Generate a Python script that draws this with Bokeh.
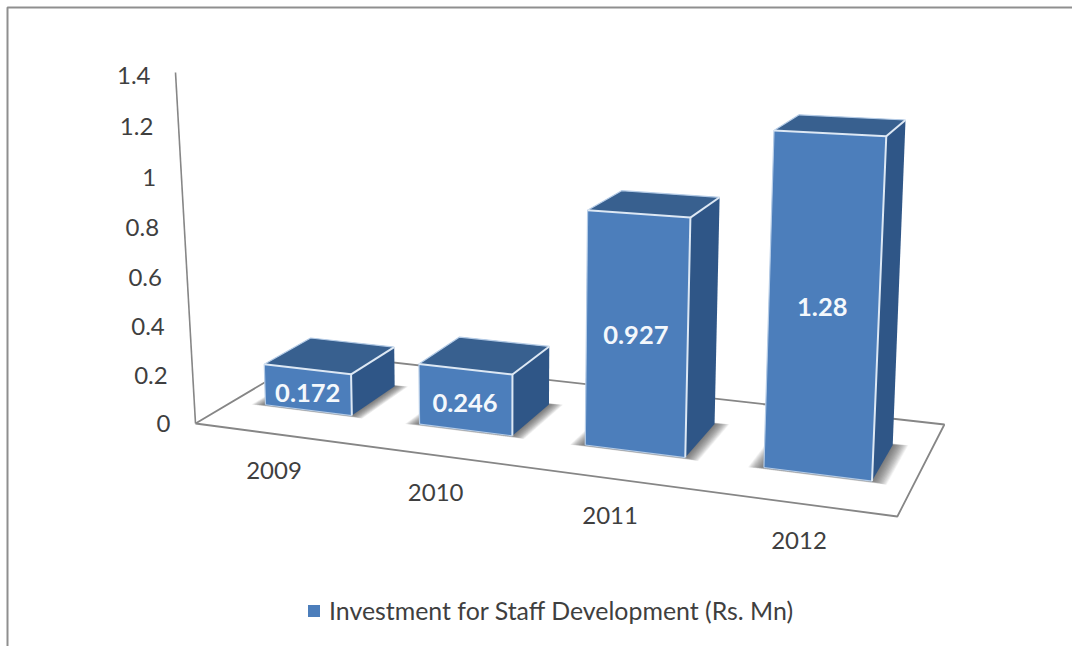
from bokeh.embed import file_html
from bokeh.resources import INLINE
from bokeh.plotting import figure
from bokeh.models import Legend, LegendItem, Range1d
from bokeh.core.properties import value

# Chart content
years = ["2009", "2010", "2011", "2012"]
investment = [0.172, 0.246, 0.927, 1.28]
axis_ticks = [0, 0.2, 0.4, 0.6, 0.8, 1.0, 1.2, 1.4]
axis_labels = ["0", "0.2", "0.4", "0.6", "0.8", "1", "1.2", "1.4"]
series_name = "Investment for Staff Development (Rs. Mn)"

FONT = "Lato"
TEXT = "#3f3f3f"
FRONT, TOP, SIDE = "#4c7ebb", "#38608f", "#2f5687"
EDGE = "#dde8f4"
GREY = "#868686"

# Floor plane as a projective map from (u, w) in the unit square to the page,
# where u runs along the categories and w runs into the depth of the chart.
G, H = -0.1440, 0.12325
A, B, C = 572.7, 156.6, 195.0
D, E, F = 18.7, -26.5, 423.0


def floor_point(u, w):
    k = G * u + H * w + 1
    return (A * u + B * w + C) / k, (D * u + E * w + F) / k


def raised(u, w, v):
    """Project a point at height v above floor position (u, w)."""
    x, y = floor_point(u, w)
    depth = max(w - 0.3, 0) / 0.4
    per_unit = 61 + 0.002 * x + 0.43 * y
    lean = 0.03 * (x - 500) * (1 - 0.15 * depth)
    return x + v * lean, y - v * per_unit


def axis_x(v):
    return 195 - v * 20 / 1.4


def axis_label_y(v):
    # The value scale stretches slightly towards the viewer at the top
    return 423 - v * (240 + 6 * v)


def axis_line_y(v):
    return 423 - v * 351 / 1.4


def bar_center(i):
    return 0.125 + i * 0.2505


def poly(points):
    return [pt[0] for pt in points], [pt[1] for pt in points]


p = figure(
    width=1072, height=646,
    x_range=Range1d(0, 1072), y_range=Range1d(646, 0),
    x_axis_type=None, y_axis_type=None,
    toolbar_location=None, output_backend="svg",
    min_border=0, outline_line_color=None, background_fill_color="white",
)
p.grid.visible = False

# Picture border along the top and the left
p.line([7, 7, 1072], [646, 7, 7], line_color="#8f8f8f", line_width=2)

# Vertical axis line and floor outline
p.line([axis_x(0), axis_x(1.4)], [axis_line_y(0), axis_line_y(1.4)], line_color=GREY, line_width=1.6)
corners = [floor_point(0, 0), floor_point(1, 0), floor_point(1, 1), floor_point(0, 1), floor_point(0, 0)]
fx, fy = poly(corners)
p.line(fx, fy, line_color=GREY, line_width=1.8)

n = len(years)
half_w = 0.0713
w_front, w_back = 0.3, 0.7

# Soft contact shadows on the floor, built from many stacked translucent footprints
for layer in range(1, 21):
    spread = 0.001 * layer
    xs, ys = [], []
    for i in range(n):
        c = bar_center(i)
        l, r = c - half_w - spread, c + half_w + spread
        f, b = w_front - spread * 0.9, w_back + spread * 0.8
        sx, sy = poly([floor_point(l, f), floor_point(r, f), floor_point(r, b), floor_point(l, b)])
        xs.append(sx)
        ys.append(sy)
    p.patches(xs, ys, fill_color="#4a4a4a", fill_alpha=0.055, line_color=None)

front_x, front_y, top_x, top_y, side_x, side_y = [], [], [], [], [], []
bright_x, bright_y, soft_x, soft_y = [], [], [], []
for i, v in enumerate(investment):
    c = bar_center(i)
    l, r = c - half_w, c + half_w
    fl0, fr0, br0 = floor_point(l, w_front), floor_point(r, w_front), floor_point(r, w_back)
    fl1, fr1 = raised(l, w_front, v), raised(r, w_front, v)
    br1, bl1 = raised(r, w_back, v), raised(l, w_back, v)
    for xs, ys, pts in [
        (front_x, front_y, [fl0, fr0, fr1, fl1]),
        (top_x, top_y, [fl1, fr1, br1, bl1]),
        (side_x, side_y, [fr0, br0, br1, fr1]),
    ]:
        x, y = poly(pts)
        xs.append(x)
        ys.append(y)
    for pts in ([fl1, fr1, fr0], [fr1, br1]):
        x, y = poly(pts)
        bright_x.append(x)
        bright_y.append(y)
    for pts in ([fl0, fr0], [fl0, fl1, bl1, br1]):
        x, y = poly(pts)
        soft_x.append(x)
        soft_y.append(y)

front = p.patches(front_x, front_y, fill_color=FRONT, line_color=None)
p.patches(top_x, top_y, fill_color=TOP, line_color=None)
p.patches(side_x, side_y, fill_color=SIDE, line_color=None)
p.multi_line(soft_x, soft_y, line_color="#b4cbe6", line_width=1.2)
p.multi_line(bright_x, bright_y, line_color=EDGE, line_width=2)

# Value labels centred on each front face
lx, ly, lt = [], [], []
for i, v in enumerate(investment):
    c = (i + 0.5) / n
    b = floor_point(c, w_front)
    t = raised(c, w_front, v)
    lx.append((b[0] + t[0]) / 2)
    ly.append((b[1] + t[1]) / 2 + 3)
    lt.append(f"{v:g}")
p.text(lx, ly, text=lt, text_color="#f4f8fc", text_font=value(FONT), text_font_style="bold",
       text_font_size="25.5px", text_align="center", text_baseline="middle")

# Axis tick labels follow the tilt of the axis line
p.text([axis_x(t) - 25 for t in axis_ticks], [axis_label_y(t) for t in axis_ticks], text=axis_labels,
       text_color=TEXT, text_font=value(FONT), text_font_size="24px",
       text_align="right", text_baseline="middle")

# Category labels sit below the front floor edge
cat = [floor_point((i + 0.5) / n, 0) for i in range(n)]
p.text([pt[0] + 2 for pt in cat], [pt[1] + 37 for pt in cat], text=years,
       text_color=TEXT, text_font=value(FONT), text_font_size="24px",
       text_align="center", text_baseline="middle")

legend = Legend(
    items=[LegendItem(label=value(series_name), renderers=[front])],
    location=(306, 21), orientation="horizontal",
    glyph_width=15, glyph_height=15, label_standoff=8, padding=0, margin=0, spacing=0,
    label_text_font=FONT, label_text_font_size="24.9px", label_text_color=TEXT,
    background_fill_alpha=0, border_line_color=None,
)
p.add_layout(legend, "center")

open("out.html", "w").write(file_html(p, INLINE))
